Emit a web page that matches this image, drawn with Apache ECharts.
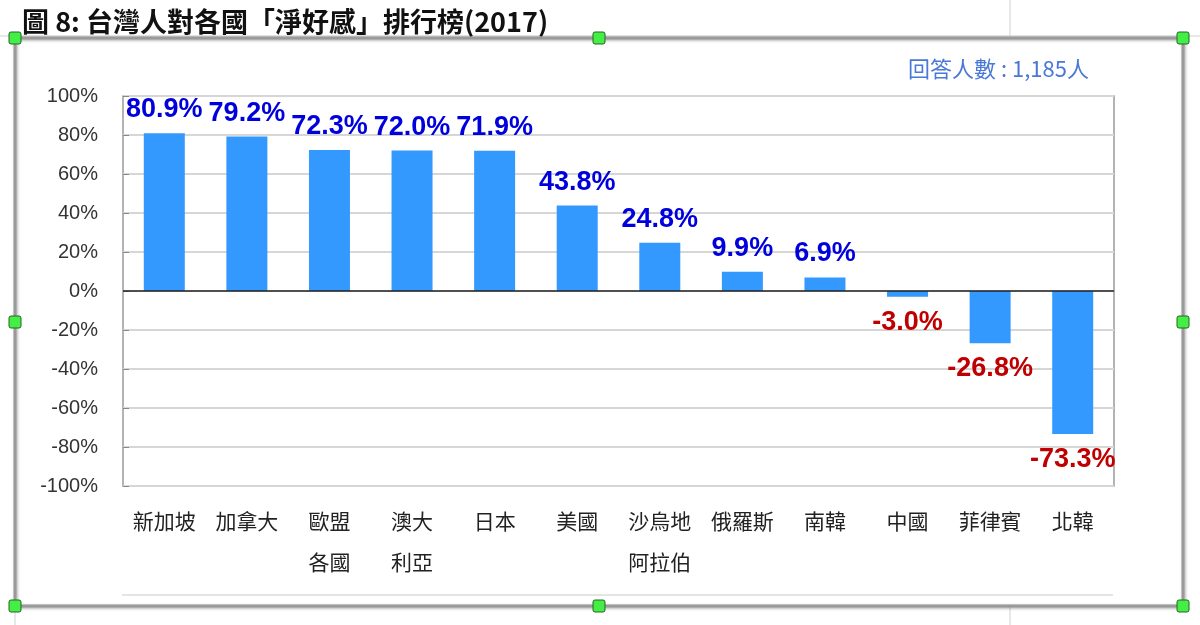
<!DOCTYPE html>
<html>
<head>
<meta charset="utf-8">
<script src="https://cdn.jsdelivr.net/npm/echarts@6/dist/echarts.min.js"></script>
<style>
  html, body { margin: 0; padding: 0; background: #fff; }
  #main { width: 1200px; height: 625px; }
</style>
</head>
<body>
<div id="main"></div>
<script>
// 國家（類別）
var countries = ['新加坡', '加拿大', '歐盟\n各國', '澳大\n利亞', '日本', '美國', '沙烏地\n阿拉伯', '俄羅斯', '南韓', '中國', '菲律賓', '北韓'];
// 淨好感 (%)
var netFavor = [80.9, 79.2, 72.3, 72.0, 71.9, 43.8, 24.8, 9.9, 6.9, -3.0, -26.8, -73.3];
// 縱軸刻度
var yMin = -100, yMax = 100, yStep = 20;

var myChart = echarts.init(document.getElementById('main'));

// 外框的綠色控制點
var handlePos = [[15, 38], [599, 38], [1183, 38], [15, 322], [1183, 322], [15, 606], [599, 606], [1183, 606]];
var handles = handlePos.map(function (p) {
    return {
        type: 'rect', z: 100,
        shape: { x: p[0] - 6, y: p[1] - 6, width: 12, height: 12, r: 2 },
        style: { fill: '#44ee44', stroke: '#226622', lineWidth: 1 }
    };
});

var option = {
    backgroundColor: '#fff',
    animation: false,
    title: [{
        text: '圖 8: 台灣人對各國「淨好感」排行榜(2017)',
        left: 17, top: 3,
        textStyle: { fontFamily: 'Noto Sans CJK TC', fontSize: 27, fontWeight: 'bold', color: '#111' }
    }, {
        text: '回答人數 : 1,185人',
        right: 106, top: 53,
        textStyle: { fontFamily: 'Noto Sans CJK TC', fontSize: 22, fontWeight: 'normal', color: '#4a78d6' }
    }],
    graphic: [
        // 試算表格線
        { type: 'line', shape: { x1: 0, y1: 36, x2: 1200, y2: 36 }, style: { stroke: '#d0d0d0', lineWidth: 1 } },
        { type: 'line', shape: { x1: 1010, y1: 0, x2: 1010, y2: 36 }, style: { stroke: '#d0d0d0', lineWidth: 1 } },
        { type: 'line', shape: { x1: 1010, y1: 606, x2: 1010, y2: 625 }, style: { stroke: '#d0d0d0', lineWidth: 1 } },
        { type: 'line', shape: { x1: 15, y1: 606, x2: 15, y2: 625 }, style: { stroke: '#d0d0d0', lineWidth: 1 } },
        // 圖表外框
        {
            type: 'rect', z: 90,
            shape: { x: 15, y: 38, width: 1168, height: 568 },
            style: { fill: 'none', stroke: '#9a9a9a', lineWidth: 3, shadowBlur: 3, shadowColor: 'rgba(0,0,0,0.35)', shadowOffsetX: 1, shadowOffsetY: 1 }
        },
        { type: 'line', shape: { x1: 122, y1: 595, x2: 1113, y2: 595 }, style: { stroke: '#e4e4e4', lineWidth: 2 } }
    ].concat(handles),
    grid: {
        left: 123, right: 86, top: 96, bottom: 139,
        show: true, borderColor: '#9a9a9a', borderWidth: 1.5
    },
    xAxis: {
        type: 'category',
        data: countries,
        position: 'bottom',
        axisLine: { show: false },
        axisTick: { show: false },
        axisLabel: {
            interval: 0,
            margin: 15,
            fontFamily: 'Noto Sans CJK TC',
            fontSize: 21,
            lineHeight: 41,
            color: '#222',
            verticalAlign: 'top'
        }
    },
    yAxis: {
        type: 'value',
        min: yMin, max: yMax, interval: yStep,
        axisLine: { show: false },
        axisTick: { show: true, inside: true, length: 6, lineStyle: { color: '#888' } },
        splitLine: { lineStyle: { color: '#d6d6d6', width: 2 } },
        axisLabel: {
            margin: 25,
            fontFamily: 'Liberation Sans',
            fontSize: 20,
            color: '#333',
            formatter: function (v) { return v + '%'; }
        }
    },
    series: [{
        type: 'bar',
        data: netFavor.map(function (v) {
            return {
                value: v,
                label: v < 0
                    ? { position: 'bottom', distance: 12, color: '#c00000' }
                    : { position: 'top', distance: 10, color: '#0000dd' }
            };
        }),
        barWidth: 41,
        itemStyle: { color: '#3399ff' },
        label: {
            show: true,
            fontFamily: 'Liberation Sans',
            fontSize: 27,
            fontWeight: 'bold',
            formatter: function (p) { return p.value.toFixed(1) + '%'; }
        },
        markLine: {
            silent: true,
            symbol: 'none',
            label: { show: false },
            lineStyle: { color: '#222', width: 1.5, type: 'solid' },
            data: [{ yAxis: 0 }]
        }
    }]
};

myChart.setOption(option);
</script>
</body>
</html>
